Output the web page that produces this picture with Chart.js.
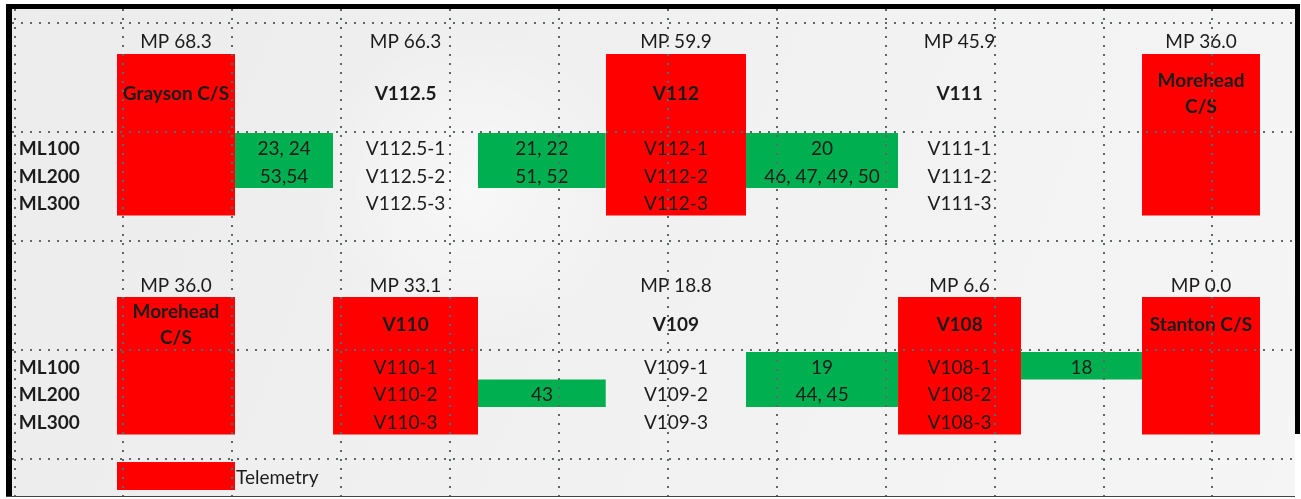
<!DOCTYPE html>
<html>
<head>
<meta charset="utf-8">
<script src="https://cdn.jsdelivr.net/npm/chart.js@4.4.1/dist/chart.umd.min.js"></script>
<style>
  html, body { margin: 0; padding: 0; background: #fff; }
  #wrap { width: 1301px; height: 499px; }
</style>
</head>
<body>
<div id="wrap"><canvas id="myChart"></canvas></div>
<script>
/* globals Chart:false */

// ---- data ----
var lineNames = ['ML100', 'ML200', 'ML300'];

var topStations = ['Grayson C/S', 'V112.5', 'V112', 'V111', 'Morehead\nC/S'];
var topMileposts = [68.3, 66.3, 59.9, 45.9, 36.0];
var topTelemetry = [true, false, true, false, true];
// segment i sits between station i and i+1, one label per main line (ML100..ML300)
var topSegments = [
  ['23, 24', '53,54', null],
  ['21, 22', '51, 52', null],
  ['20', '46, 47, 49, 50', null],
  [null, null, null]
];

var bottomStations = ['Morehead\nC/S', 'V110', 'V109', 'V108', 'Stanton C/S'];
var bottomMileposts = [36.0, 33.1, 18.8, 6.6, 0.0];
var bottomTelemetry = [true, true, false, true, true];
var bottomSegments = [
  [null, null, null],
  [null, '43', null],
  ['19', '44, 45', null],
  ['18', null, null]
];

var legendLabel = 'Telemetry';

// ---- layout (one dotted grid cell = 1 unit) ----
var slotLeft = [0.94, 2.925, 5.43, 8.113, 10.353];
var slotRight = [2.025, 4.256, 6.717, 9.242, 11.437];
var rowH = 0.2525;
var sections = [
  { stations: topStations, mp: topMileposts, tel: topTelemetry, segs: topSegments,
    mpY: 0.172, titleY: 0.649, boxTop: 0.282, rowTop: 1.006 },
  { stations: bottomStations, mp: bottomMileposts, tel: bottomTelemetry, segs: bottomSegments,
    mpY: 2.41, titleY: 2.766, boxTop: 2.511, rowTop: 3.015 }
];

var RED = '#ff0000';
var GREEN = '#00b050';

(function () {
  'use strict'

  var datasets = [];
  var texts = [];

  function rect(x0, x1, yTop, yBottom, color, label) {
    datasets.push({
      label: label || '',
      data: [{ x: x0, y: yTop }, { x: x1, y: yTop }],
      fill: { value: yBottom },
      backgroundColor: color,
      borderColor: 'rgba(0,0,0,0)',
      borderWidth: 1,
      pointRadius: 0,
      tension: 0
    });
  }

  function rowCenter(sec, r) {
    return sec.rowTop + (r + 0.5) * rowH + 0.02;
  }

  sections.forEach(function (sec) {
    var boxBottom = sec.rowTop + lineNames.length * rowH;

    // main line labels
    lineNames.forEach(function (name, r) {
      texts.push({ text: name, x: 0.04, y: rowCenter(sec, r), bold: true, align: 'left' });
    });

    sec.stations.forEach(function (name, i) {
      var cx = (slotLeft[i] + slotRight[i]) / 2;
      if (sec.tel[i]) rect(slotLeft[i], slotRight[i], sec.boxTop, boxBottom, RED);
      texts.push({ text: 'MP ' + sec.mp[i].toFixed(1), x: cx, y: sec.mpY });
      texts.push({ text: name, x: cx, y: sec.titleY, bold: true });
      if (name.indexOf('C/S') < 0) {
        lineNames.forEach(function (ln, r) {
          texts.push({ text: name + '-' + (r + 1), x: cx, y: rowCenter(sec, r) });
        });
      }
    });

    sec.segs.forEach(function (seg, s) {
      var rows = [];
      seg.forEach(function (v, r) { if (v) rows.push(r); });
      if (!rows.length) return;
      var first = rows[0], last = rows[rows.length - 1];
      rect(slotRight[s], slotLeft[s + 1], sec.rowTop + first * rowH, sec.rowTop + (last + 1) * rowH, GREEN);
      var cx = (slotRight[s] + slotLeft[s + 1]) / 2;
      rows.forEach(function (r) {
        texts.push({ text: seg[r], x: cx, y: rowCenter(sec, r) });
      });
    });
  });

  // legend
  rect(slotLeft[0], slotRight[0], 4.025, 4.282, RED, legendLabel);
  texts.push({ text: legendLabel, x: 2.034, y: 4.17, align: 'left' });

  var background = {
    id: 'background',
    beforeDraw: function (chart) {
      var ctx = chart.ctx, a = chart.chartArea;
      ctx.save();
      ctx.fillStyle = '#ffffff';
      ctx.fillRect(0, 0, chart.width, chart.height);
      var g = ctx.createLinearGradient(a.left, a.top, a.right, a.bottom);
      g.addColorStop(0, '#ececec');
      g.addColorStop(0.5, '#f1f1f1');
      g.addColorStop(1, '#f5f5f5');
      ctx.fillStyle = g;
      ctx.fillRect(a.left, a.top, a.right - a.left, a.bottom - a.top);
      var r = ctx.createRadialGradient(470, 190, 10, 470, 190, 160);
      r.addColorStop(0, 'rgba(255,255,255,0.5)');
      r.addColorStop(1, 'rgba(255,255,255,0)');
      ctx.fillStyle = r;
      ctx.fillRect(a.left, a.top, a.right - a.left, a.bottom - a.top);
      // frame
      ctx.fillStyle = '#000';
      ctx.fillRect(6, 4, chart.width - 7, a.top - 4);
      ctx.fillRect(6, 4, a.left - 6, chart.height - 7);
      ctx.fillRect(a.right, 4, 5, 430);
      ctx.fillStyle = '#444';
      ctx.fillRect(6, a.bottom, a.right - 6, 1);
      ctx.restore();
    }
  };

  var labels = {
    id: 'labels',
    afterDatasetsDraw: function (chart) {
      var ctx = chart.ctx, xs = chart.scales.x, ys = chart.scales.y;
      ctx.save();
      ctx.textBaseline = 'middle';
      texts.forEach(function (t) {
        ctx.font = (t.bold ? 'bold ' : '') + '19px Lato';
        ctx.fillStyle = '#1c1c1c';
        ctx.textAlign = t.align || 'center';
        var parts = t.text.split('\n');
        parts.forEach(function (p, i) {
          var y = ys.getPixelForValue(t.y) + (i - (parts.length - 1) / 2) * 26;
          ctx.fillText(p, xs.getPixelForValue(t.x), y);
        });
      });
      ctx.restore();
    }
  };

  var gridOpts = { color: '#5e6868', lineWidth: 2, drawTicks: false, z: 1 };

  var ctx = document.getElementById('myChart')
  // eslint-disable-next-line no-unused-vars
  var myChart = new Chart(ctx, {
    type: 'line',
    data: { datasets: datasets },
    plugins: [background, labels],
    options: {
      responsive: true,
      maintainAspectRatio: false,
      animation: false,
      events: [],
      layout: { padding: { left: 12, top: 9, right: 6, bottom: 3 } },
      plugins: { legend: { display: false }, tooltip: { enabled: false } },
      scales: {
        x: {
          type: 'linear', min: -0.023, max: 11.758,
          ticks: { display: false, stepSize: 1, includeBounds: false, autoSkip: false },
          grid: gridOpts,
          border: { display: false, dash: [2, 7] }
        },
        y: {
          type: 'linear', reverse: true, min: -0.131, max: 4.337,
          ticks: { display: false, stepSize: 1, includeBounds: false, autoSkip: false },
          grid: gridOpts,
          border: { display: false, dash: [2, 7] }
        }
      }
    }
  })
})()
</script>
</body>
</html>
